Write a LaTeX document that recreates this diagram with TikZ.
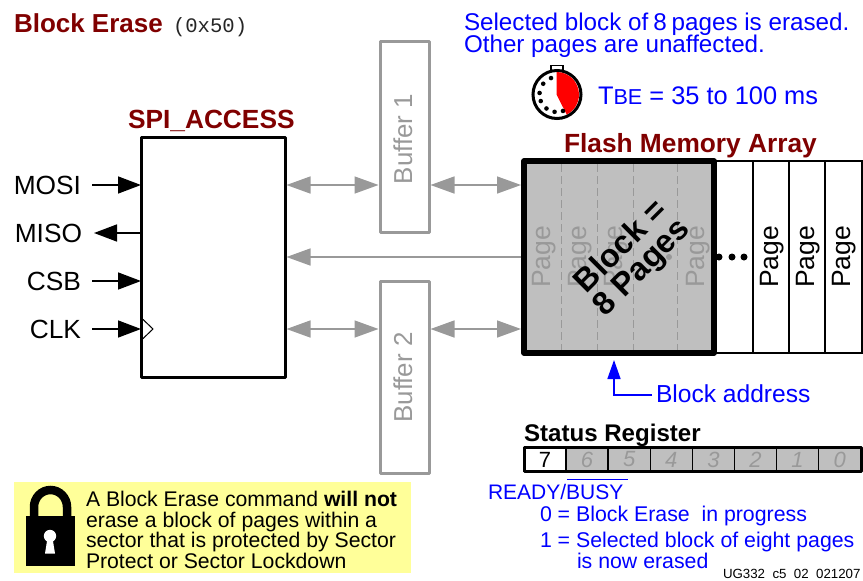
\documentclass[tikz,border=0pt]{standalone}
\usepackage{fontspec}
\setmainfont{Liberation Sans}
\newfontfamily\monof{Liberation Mono}
\usetikzlibrary{arrows.meta}
\definecolor{dred}{RGB}{128,0,0}
\definecolor{ublue}{RGB}{0,0,255}
\definecolor{ugray}{RGB}{153,153,153}
\definecolor{fillg}{RGB}{191,191,191}
\definecolor{uyel}{RGB}{255,255,153}
\newcommand{\fs}[1]{\fontsize{#1}{#1}\selectfont}
\tikzset{
  txt/.style={inner sep=0pt,outer sep=0pt,anchor=base west,text=black,font=\fs{25}},
  btxt/.style={txt,text=ublue,font=\fs{24.2}},
  ttl/.style={txt,text=dred,font=\fs{26.3}\bfseries},
  sig/.style={txt,anchor=base east,font=\fs{26.3}},
  pg/.style={inner sep=0pt,rotate=90,font=\fs{26.5},text=black},
  pgg/.style={pg,text=ugray},
  bufbox/.style={draw=ugray,line width=3pt,fill=white,minimum width=49pt,inner sep=0pt,line join=round},
  buftxt/.style={inner sep=0pt,rotate=90,font=\fs{25.9},text=ugray},
  blk/.style={-{Triangle[length=23pt,width=17pt]},line width=1.5pt,black,shorten >=0pt},
  gbi/.style={{Triangle[length=24pt,width=17pt]}-{Triangle[length=24pt,width=17pt]},line width=1.5pt,ugray},
  gsi/.style={-{Triangle[length=24pt,width=17pt]},line width=1.5pt,ugray},
  cell/.style={draw=black,line width=1.5pt,fill=fillg,minimum width=42.1pt,minimum height=24pt,inner sep=0pt,font=\fs{22}\itshape,text=ugray},
}
\begin{document}
\begin{tikzpicture}[x=1pt,y=-1pt]
\useasboundingbox (0,0) rectangle (863,581);
% titles
\node[ttl,font=\fs{26}\bfseries] (title) at (14,32) {Block Erase};
\node[txt,font=\fs{20.6}\monof,text=black!85] (opcode) at (173,32) {(0x50)};
\node[btxt] (sel1) at (464,30) {Selected block of\hspace{5pt}8\hspace{5pt}pages is erased.};
\node[btxt] (sel2) at (464,52) {Other pages are unaffected.};
% stopwatch
\draw[black,line width=1.3pt,fill=white] (551,65.5) rectangle (563,71.5);
\draw[black,line width=3pt,fill=white] (557,94.5) circle (24);
\fill[red] (556.5,94.5) -- (556.5,72) arc (-90:63:22.5) -- cycle;
\foreach \a in {250,218,185,158,127,98,70}{
  \fill[black] (557,94.5) ++(\a:17.5) circle (2.3);
}
\node[btxt,font=\fs{25.4}] (tbe) at (598,104) {T{\fs{21.6}BE} = 35 to 100 ms};
% SPI
\node[ttl] (spititle) at (128,128) {SPI\_ACCESS};
\draw[black,line width=3pt,line join=round,fill=white] (141,137) rectangle (285,377);
\coordinate (mosiL) at (92,185);
\coordinate (mosiR) at (141,185);
\coordinate (misoL) at (94,233);
\coordinate (misoR) at (141,233);
\coordinate (csbL) at (92,281);
\coordinate (csbR) at (141,281);
\coordinate (clkL) at (92,329);
\coordinate (clkR) at (141,329);
\node[sig] (mosi) at (81,194) {MOSI};
\node[sig] (miso) at (82,242) {MISO};
\node[sig] (csb) at (81,290) {CSB};
\node[sig] (clk) at (81,338) {CLK};
\draw[blk] (mosiL) -- (mosiR);
\draw[blk] (misoR) -- (misoL);
\draw[blk] (csbL) -- (csbR);
\draw[blk] (clkL) -- (clkR);
\draw[black,line width=1pt] (142,318.5) -- (153,329) -- (142,339.5);
% buffers
\node[bufbox,minimum height=191pt] (buf1) at (404.5,136.5) {};
\node[buftxt] (buf1t) at (403,139) {Buffer 1};
\node[bufbox,minimum height=192pt] (buf2) at (404.5,377) {};
\node[buftxt] (buf2t) at (403,377.5) {Buffer 2};
% flash memory
\node[ttl] (flashtitle) at (564,152) {Flash Memory Array};
\draw[black,line width=2pt,fill=white] (714,161) rectangle (862,353);
\draw[black,line width=2pt] (753,161) -- (753,353) (789,161) -- (789,353) (824.5,161) -- (824.5,353);
\fill[fillg] (524,161) rectangle (714,353);
\draw[ugray,line width=1pt,dash pattern=on 8pt off 4pt] (561,164) -- (561,350) (597,164) -- (597,350) (633,164) -- (633,350) (677,164) -- (677,350);
\node[pgg] (p1) at (544,257) {Page};
\node[pgg] (p2) at (580,257) {Page};
\node[pgg] (p3) at (616,257) {Page};
\node[pgg] (p4) at (698,257) {Page};
\fill[ugray] (669,257) circle (3);
\fill[black] (719,257) circle (3.5) (732,257) circle (3.5) (744,257) circle (3.5);
\draw[black,line width=5.5pt,line join=round] (524,161) rectangle (714,353);
\node[pg] (p5) at (772,257) {Page};
\node[pg] (p6) at (808,257) {Page};
\node[pg] (p7) at (844,257) {Page};
\node[inner sep=0pt,rotate=45,font=\fs{32.3}\bfseries,text=black,align=center] (blocktxt) at (632,258) {Block =\\[-3pt]8 Pages};
% connectors
\coordinate (a1L) at (286.5,185);
\coordinate (a1R) at (378.5,185);
\coordinate (a2L) at (430.5,185);
\coordinate (a2R) at (521,185);
\coordinate (a3L) at (286.5,257);
\coordinate (a3R) at (521,257);
\coordinate (a4L) at (286.5,329);
\coordinate (a4R) at (378.5,329);
\coordinate (a5L) at (430.5,329);
\coordinate (a5R) at (521,329);
\draw[gbi] (a1L) -- (a1R);
\draw[gbi] (a2L) -- (a2R);
\draw[gsi] (a3R) -- (a3L);
\draw[gbi] (a4L) -- (a4R);
\draw[gbi] (a5L) -- (a5R);
% block address
\node[btxt,font=\fs{24.6}] (baddr) at (656,402) {Block address};
\coordinate (baL) at (652,395);
\coordinate (baC) at (614,395);
\coordinate (baT) at (614,360);
\draw[ublue,line width=1.5pt,-{Triangle[length=19pt,width=13pt]}] (baL) -- (baC) -- (baT);
% status register
\node[txt,font=\fs{24.1}\bfseries] (srt) at (524,441.5) {Status Register};
\foreach \i/\n in {0/7,1/6,2/5,3/4,4/3,5/2,6/1,7/0}{
  \node[cell] (c\i) at ({545+42.1*\i},459.5) {\n};
}
\node[cell,fill=white,text=black,font=\fs{22}] (c0b) at (c0) {7};
\draw[black,line width=3pt,line join=round] (524,447.5) rectangle (861,471.5);
\node[btxt,font=\fs{21}] (rb) at (488,499) {READY/BUSY};
\draw[ublue,line width=1pt] (567,479.5) -- (628,479.5);
\node[btxt,font=\fs{21.3}] (rb0) at (540,521) {0 = Block Erase\ \ in progress};
\node[btxt,font=\fs{21.3}] (rb1) at (540,547) {1 = Selected block of eight pages};
\node[btxt,font=\fs{21.3}] (rb2) at (577,568) {is now erased};
\node[txt,font=\fs{13.3}] (ug) at (723,578) {UG332\ \ c5\ \ 02\ \ 021207};
% note
\fill[uyel] (14,482) rectangle (411,573);
\fill[black] (26,516) rectangle (75,566);
\draw[black,line width=8.5pt] (34,518) -- (34,507) arc (180:360:16.5 and 17) -- (67,518);
\fill[white] (50,536) circle (6.2);
\fill[white] (47.5,538) -- (52.5,538) -- (55,553.5) -- (45,553.5) -- cycle;
\node[txt,font=\fs{21.2}] (n1) at (86,506) {A Block Erase command \textbf{will not}};
\node[txt,font=\fs{21.2}] (n2) at (86,527) {erase a block of pages within a};
\node[txt,font=\fs{21.2}] (n3) at (86,547) {sector that is protected by Sector};
\node[txt,font=\fs{21.2}] (n4) at (86,568) {Protect or Sector Lockdown};
\end{tikzpicture}
\end{document}
